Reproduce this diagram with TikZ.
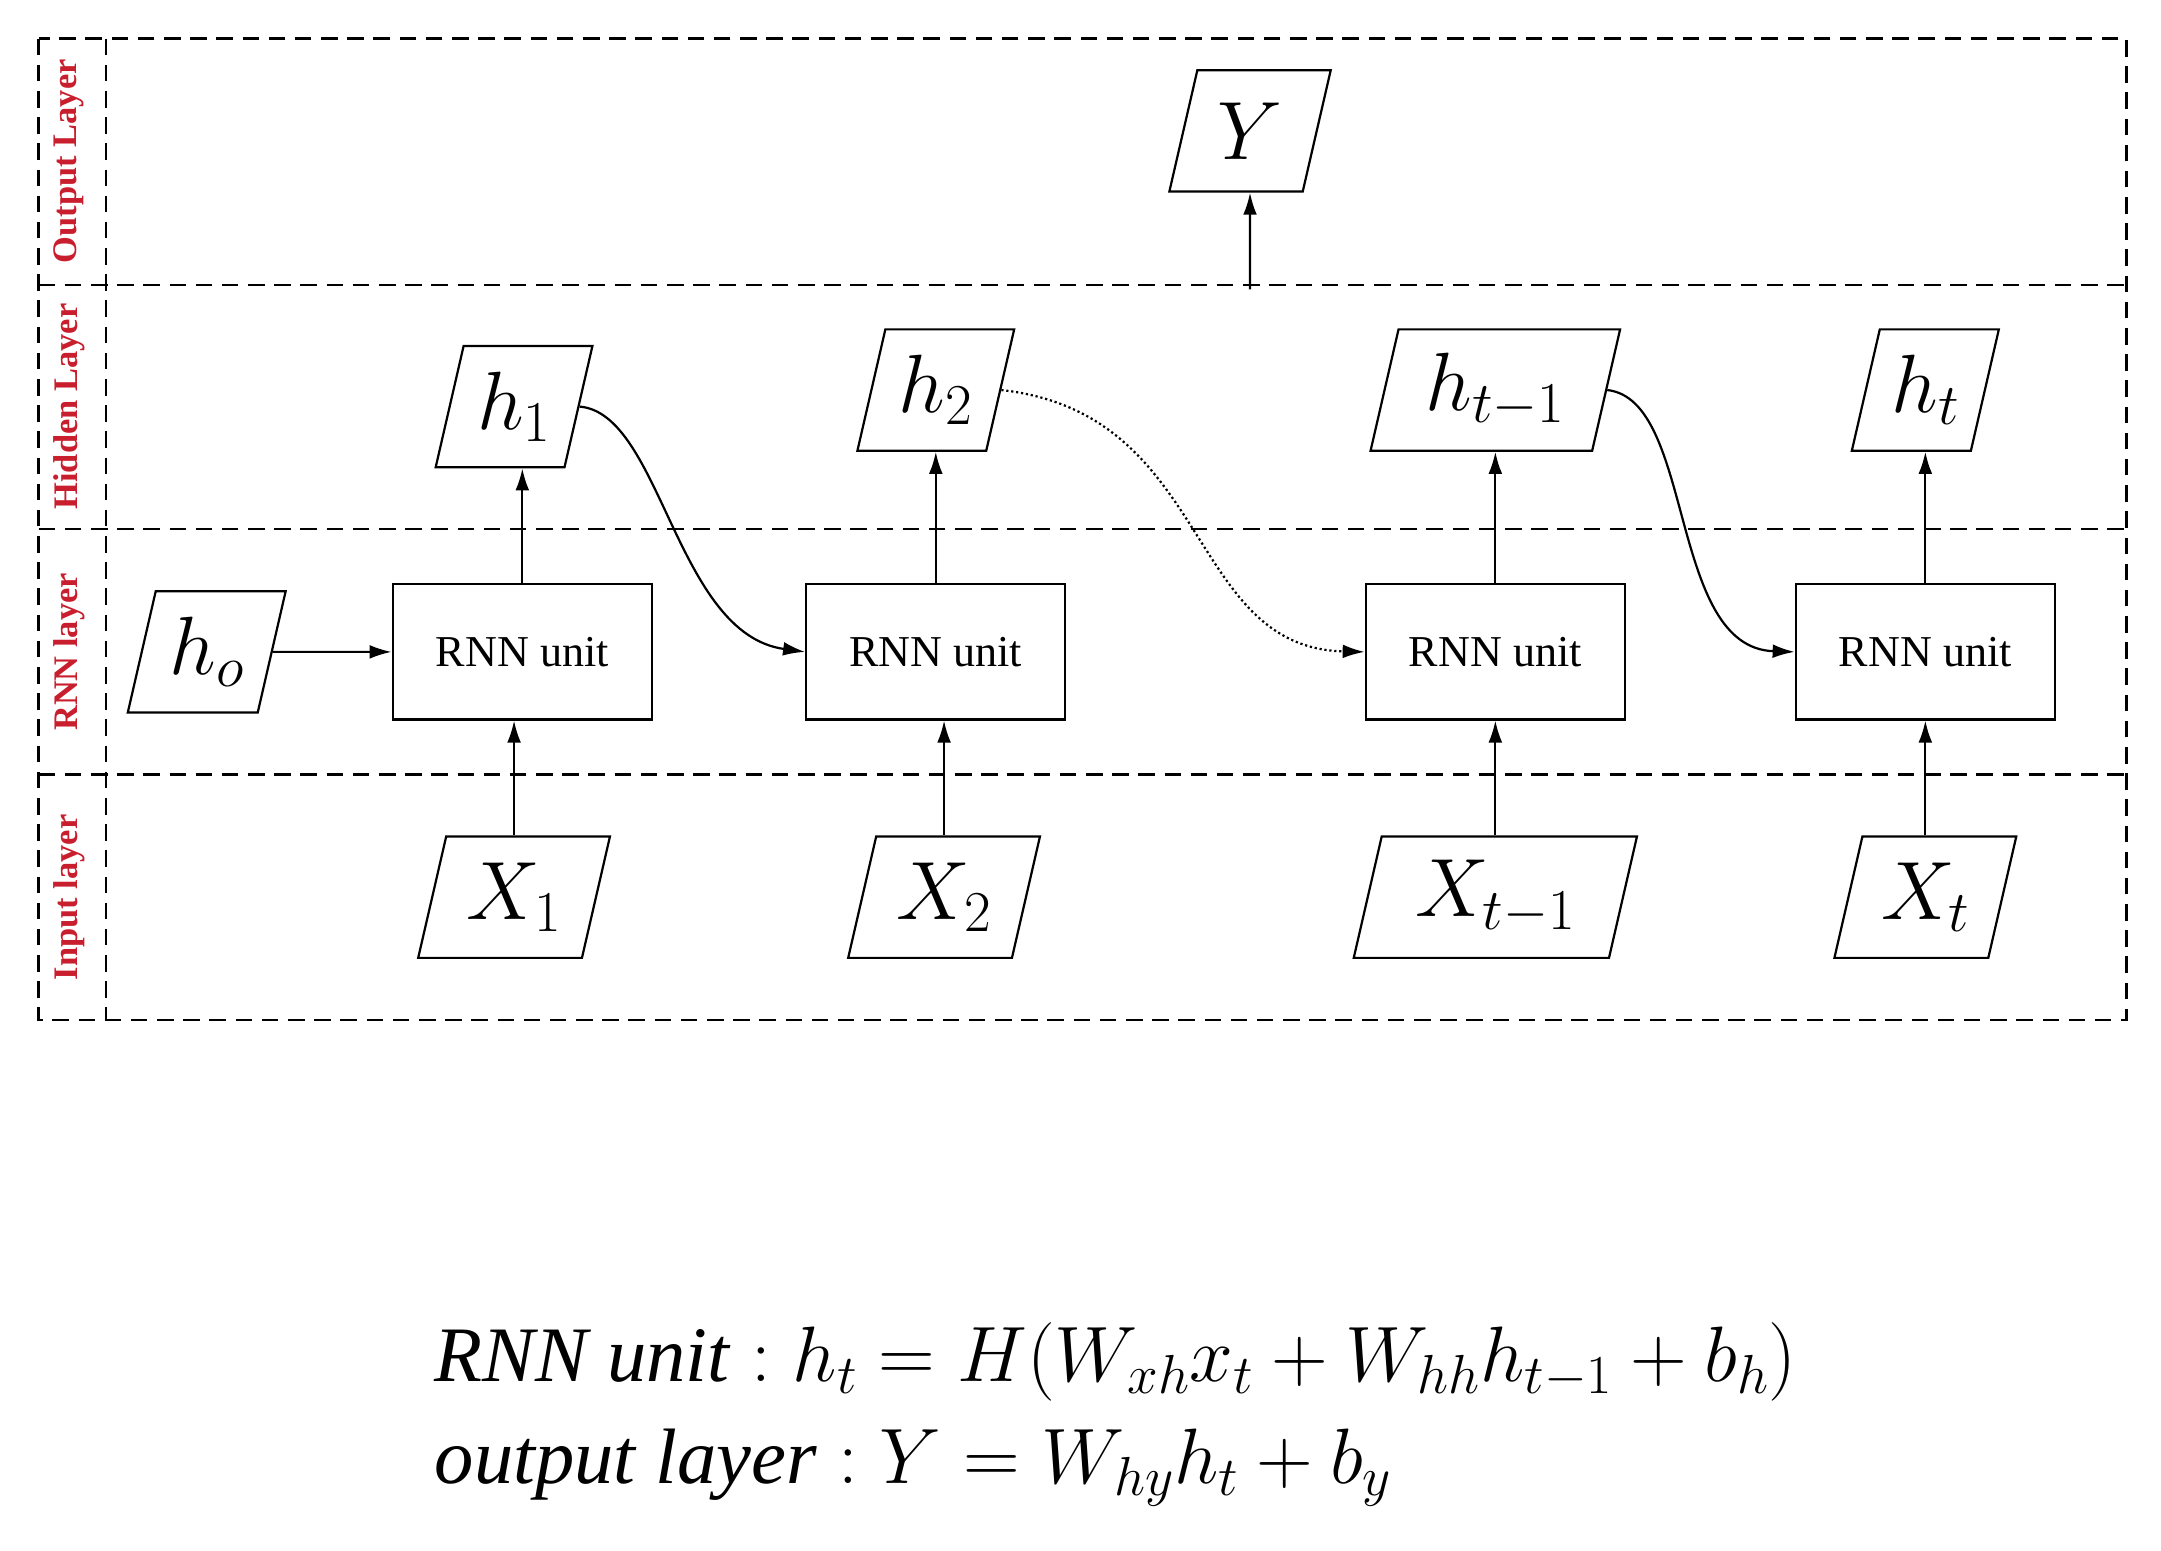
\documentclass[tikz,border=0pt]{standalone}
\usepackage{fix-cm}
\usepackage{fontspec}
\setmainfont{Liberation Serif}
\usetikzlibrary{shapes.geometric,arrows.meta}
\definecolor{lab}{RGB}{200,30,45}
\begin{document}
\begin{tikzpicture}[x=1pt,y=-1pt,
  para/.style={draw,line width=1.6pt,trapezium,trapezium left angle=77,trapezium right angle=103,
    minimum height=88pt,minimum width=90pt,inner xsep=-4pt,inner ysep=2pt,font=\fontsize{60}{68}\selectfont},
  unit/.style={draw,line width=1.6pt,minimum width=188pt,minimum height=98pt,font=\fontsize{32}{38}\selectfont},
  dsh/.style={line width=1.6pt,dash pattern=on 12pt off 7pt},
  arr/.style={line width=1.6pt,-{Latex[length=16pt,width=10pt]}},
  lbl/.style={rotate=90,text=lab,font=\fontsize{25}{28}\selectfont\bfseries}]
\useasboundingbox (0,0) rectangle (1568,1125);
% frame
\draw[dsh] (28,28) rectangle (1543,740);
\foreach \y in {207,384,562} \draw[dsh] (28,\y) -- (1543,\y);
\draw[dsh] (77,28) -- (77,740);
\node[lbl] (l1) at (50,117) {Output Layer};
\node[lbl] (l2) at (50,295) {Hidden Layer};
\node[lbl] (l3) at (50,473) {RNN layer};
\node[lbl] (l4) at (50,651) {Input layer};
% nodes
\node[para] (Y) at (907,95) {$Y$};
\node[para] (h1) at (373,295) {$h_1$};
\node[para] (h2) at (679,283) {$h_2$};
\node[para] (h3) at (1085,283) {$h_{t-1}$};
\node[para] (h4) at (1397,283) {$h_t$};
\node[para] (h0) at (150,473) {$h_o$};
\node[unit] (u1) at (379,473) {RNN unit};
\node[unit] (u2) at (679,473) {RNN unit};
\node[unit] (u3) at (1085,473) {RNN unit};
\node[unit] (u4) at (1397,473) {RNN unit};
\node[para] (x1) at (373,651) {$X_1$};
\node[para] (x2) at (685,651) {$X_2$};
\node[para] (x3) at (1085,651) {$X_{t-1}$};
\node[para] (x4) at (1397,651) {$X_t$};
\coordinate (yb) at (907,210);
% arrows
\draw[arr] (yb) -- (Y.south);
\draw[arr] (h0.east) -- (u1.west);
\draw[arr] (u1.north) -- (h1.south -| u1.north);
\draw[arr] (u2.north) -- (h2.south -| u2.north);
\draw[arr] (u3.north) -- (h3.south -| u3.north);
\draw[arr] (u4.north) -- (h4.south -| u4.north);
\draw[arr] (x1.north) -- (x1.north |- u1.south);
\draw[arr] (x2.north) -- (x2.north |- u2.south);
\draw[arr] (x3.north) -- (x3.north |- u3.south);
\draw[arr] (x4.north) -- (x4.north |- u4.south);
\draw[arr] (h1.east) .. controls (480,300) and (490,460) .. (u2.west);
\draw[arr,dotted] (h2.east) .. controls (880,300) and (860,470) .. (u3.west);
\draw[arr] (h3.east) .. controls (1230,290) and (1210,470) .. (u4.west);
% equations
\node[anchor=west,font=\fontsize{57}{66}\selectfont] (e1) at (312,988) {$\mathit{RNN\ unit}: h_t = H(W_{xh}x_t + W_{hh}h_{t-1} + b_h)$};
\node[anchor=west,font=\fontsize{57}{66}\selectfont] (e2) at (312,1065) {$\mathit{output\ layer}: Y = W_{hy}h_t + b_y$};
\end{tikzpicture}
\end{document}
